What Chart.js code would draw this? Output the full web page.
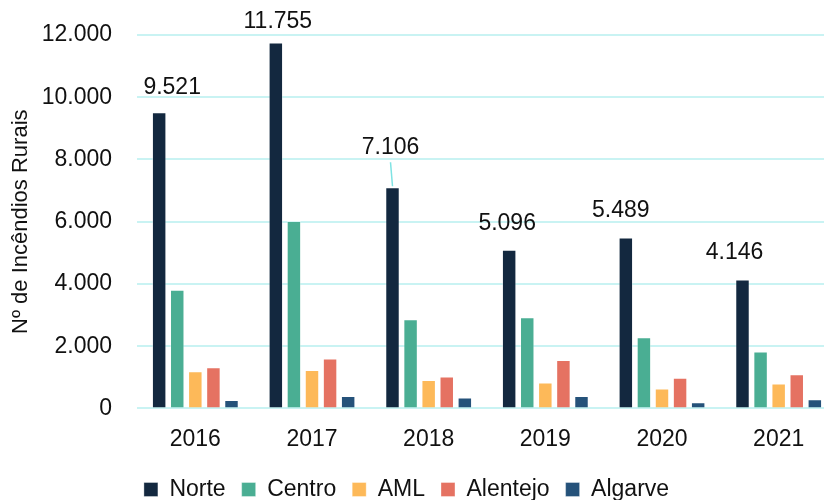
<!DOCTYPE html>
<html>
<head>
<meta charset="utf-8">
<script src="https://cdn.jsdelivr.net/npm/chart.js@4.4.1/dist/chart.umd.min.js"></script>
<style>
  html, body { margin: 0; padding: 0; background: #fff; overflow: hidden; }
  #view { width: 824px; height: 500px; overflow: hidden; }
  #wrap { width: 837px; height: 500px; }
</style>
</head>
<body>
<div id="view"><div id="wrap"><canvas id="chart"></canvas></div></div>
<script>
const years = ['2016', '2017', '2018', '2019', '2020', '2021'];
const norte = [9521, 11755, 7106, 5096, 5489, 4146];
const centro = [3810, 6020, 2868, 2932, 2289, 1826];
const aml = [1196, 1238, 916, 830, 637, 797];
const alentejo = [1325, 1601, 1022, 1559, 981, 1100];
const algarve = [273, 402, 347, 402, 199, 296];
const yTicks = [0, 2000, 4000, 6000, 8000, 10000, 12000];

const FONT = "'Liberation Sans', Arial, sans-serif";
const GRID = '#c9f3f3';
const TEXT = '#111111';

function fmt(v) {
  return String(v).replace(/\B(?=(\d{3})+(?!\d))/g, '.');
}

// value labels over the Norte bars, with a leader line where the label was moved
const norteLabels = {
  id: 'norteLabels',
  afterDatasetsDraw(chart, _args, opts) {
    const { ctx } = chart;
    const meta = chart.getDatasetMeta(0);
    ctx.save();
    ctx.font = `23px ${FONT}`;
    ctx.fillStyle = TEXT;
    ctx.textAlign = 'center';
    ctx.textBaseline = 'middle';
    meta.data.forEach((bar, i) => {
      const [dx, dy] = opts.offsets[i];
      const x = bar.x + dx;
      const y = bar.y + dy;
      ctx.fillText(fmt(norte[i]), x, y);
      if (opts.leader[i]) {
        ctx.strokeStyle = '#7fe3e3';
        ctx.lineWidth = 1.5;
        ctx.beginPath();
        ctx.moveTo(x, y + 15);
        ctx.lineTo(bar.x, bar.y - 1);
        ctx.stroke();
      }
    });
    ctx.restore();
  }
};

// the legend in the original sits a little left of the canvas centre
const legendShift = {
  id: 'legendShift',
  afterLayout(chart, _args, opts) {
    if (!chart.legend) return;
    chart.legend.left += opts.dx;
    chart.legend.right += opts.dx;
  }
};

const ds = (label, data, color) => ({
  label,
  data,
  backgroundColor: color,
  borderColor: 'rgba(255,255,255,0.35)',
  borderWidth: 1,
  categoryPercentage: 0.775,
  barPercentage: 0.8,
});

new Chart(document.getElementById('chart'), {
  type: 'bar',
  plugins: [norteLabels, legendShift],
  data: {
    labels: years,
    datasets: [
      ds('Norte', norte, '#13283f'),
      ds('Centro', centro, '#4aae93'),
      ds('AML', aml, '#fdb959'),
      ds('Alentejo', alentejo, '#e57262'),
      ds('Algarve', algarve, '#25527a'),
    ],
  },
  options: {
    responsive: true,
    maintainAspectRatio: false,
    animation: false,
    layout: { padding: { top: 0, right: 0, left: 8, bottom: -11 } },
    plugins: {
      tooltip: { enabled: false },
      legendShift: { dx: -16 },
      norteLabels: {
        offsets: [[13, -24], [2, -21], [-2, -40], [-2, -26], [-5, -27], [-8, -27]],
        leader: [false, false, true, false, false, false],
      },
      legend: {
        position: 'bottom',
        labels: {
          color: TEXT,
          font: { family: FONT, size: 23 },
          boxWidth: 14,
          boxHeight: 14,
          padding: 16,
        },
      },
    },
    scales: {
      x: {
        grid: { display: false },
        border: { display: false },
        ticks: { color: TEXT, font: { family: FONT, size: 23 }, padding: 9 },
      },
      y: {
        min: 0,
        max: 12000,
        afterBuildTicks: (scale) => { scale.ticks = yTicks.map(v => ({ value: v })); },
        afterFit: (scale) => { scale.width = 129; scale.paddingTop = 35; },
        grid: { color: GRID, lineWidth: 2, drawTicks: false },
        border: { display: false },
        ticks: {
          color: TEXT,
          font: { family: FONT, size: 23 },
          padding: 25,
          callback: (v) => fmt(v),
        },
        title: {
          display: true,
          text: 'Nº de Incêndios Rurais',
          color: TEXT,
          font: { family: FONT, size: 22 },
          padding: 0,
        },
      },
    },
  },
});
</script>
</body>
</html>
